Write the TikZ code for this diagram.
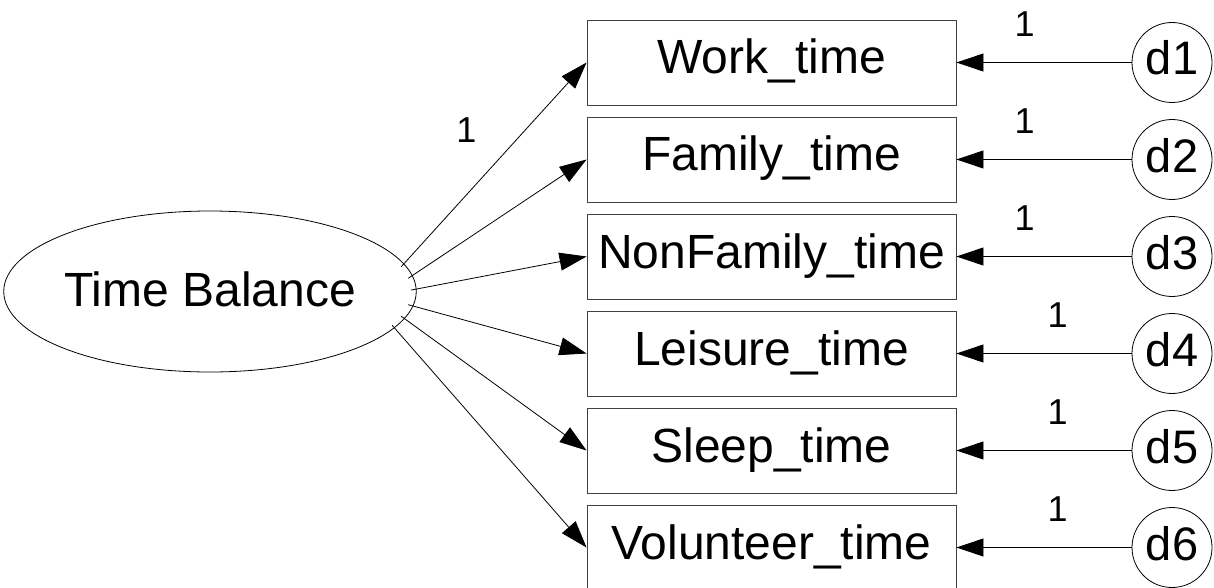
\documentclass[tikz,border=0pt]{standalone}
\usepackage{fontspec}
\setmainfont{Liberation Sans}
\usetikzlibrary{shapes.geometric,arrows.meta,calc}
\begin{document}
\begin{tikzpicture}[x=1pt,y=-1pt,
  obs/.style={draw=black!75,line width=0.9pt,minimum width=369pt,minimum height=85pt,inner sep=0pt,font=\fontsize{48}{56}\selectfont,text height=34pt,text depth=11pt},
  lat/.style={ellipse,draw,line width=0.8pt,minimum width=402pt,minimum height=161pt,inner sep=0pt,font=\fontsize{48}{56}\selectfont,text height=34pt,text depth=5pt},
  err/.style={circle,draw,line width=0.8pt,minimum size=80pt,inner sep=0pt,font=\fontsize{47}{56}\selectfont,text height=34pt,text depth=9pt},
  wt/.style={font=\fontsize{36}{42}\selectfont,inner sep=0pt,text height=25pt,text depth=0pt},
  arr/.style={draw,line width=0.8pt,-{Triangle[length=27pt,width=18pt]}}
]
\fill[white] (0,0) rectangle (1214,588);
\useasboundingbox (0,0) rectangle (1214,588);

\node[lat] (TB) at (210,291.5) {Time Balance};

\node[obs] (b1) at (771.5,62.5) {Work\_time};
\node[obs] (b2) at (771.5,159.5) {Family\_time};
\node[obs] (b3) at (771.5,256.5) {NonFamily\_time};
\node[obs] (b4) at (771.5,353.5) {Leisure\_time};
\node[obs] (b5) at (771.5,450.5) {Sleep\_time};
\node[obs] (b6) at (771.5,547.5) {Volunteer\_time};

\node[err] (d1) at (1172,62.5) {d1};
\node[err] (d2) at (1172,159.5) {d2};
\node[err] (d3) at (1172,256.5) {d3};
\node[err] (d4) at (1172,353.5) {d4};
\node[err] (d5) at (1172,450.5) {d5};
\node[err] (d6) at (1172,547.5) {d6};

\coordinate (s1) at ($(TB.center)+(-18:201 and 80)$);
\coordinate (s2) at ($(TB.center)+(-9.5:201 and 80)$);
\coordinate (s3) at ($(TB.center)+(-1:201 and 80)$);
\coordinate (s4) at ($(TB.center)+(9.5:201 and 80)$);
\coordinate (s5) at ($(TB.center)+(18:201 and 80)$);
\coordinate (s6) at ($(TB.center)+(25:201 and 80)$);

\path[arr] (s1) -- (b1.west);
\path[arr] (s2) -- (b2.west);
\path[arr] (s3) -- (b3.west);
\path[arr] (s4) -- (b4.west);
\path[arr] (s5) -- (b5.west);
\path[arr] (s6) -- (b6.west);

\path[arr] (d1.west) -- (b1.east);
\path[arr] (d2.west) -- (b2.east);
\path[arr] (d3.west) -- (b3.east);
\path[arr] (d4.west) -- (b4.east);
\path[arr] (d5.west) -- (b5.east);
\path[arr] (d6.west) -- (b6.east);

\node[wt] (l0) at (466.5,130) {1};
\node[wt] (l1) at (1024.5,24) {1};
\node[wt] (l2) at (1024.5,121) {1};
\node[wt] (l3) at (1024.5,218) {1};
\node[wt] (l4) at (1057.5,315) {1};
\node[wt] (l5) at (1057.5,412) {1};
\node[wt] (l6) at (1057.5,509) {1};
\end{tikzpicture}
\end{document}
